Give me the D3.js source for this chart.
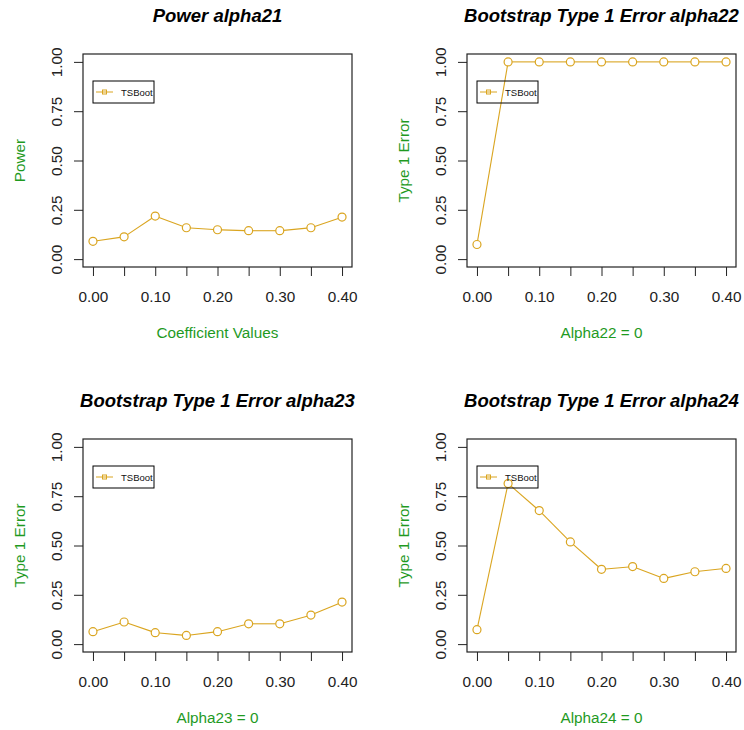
<!DOCTYPE html>
<html lang="en">
<head>
    <meta charset="UTF-8">
    <title>Bootstrap power and type 1 error</title>
    <script src="https://d3js.org/d3.v7.min.js"></script>
    <style>
        body { margin: 0; background: white; }
        svg { display: block; font-family: "Liberation Sans", Arial, sans-serif; }
        .tick line { stroke: #222; }
        .tick text { fill: #222; font-size: 15.3px; }
    </style>
</head>
<body>
<svg height="730" width="744"></svg>

<script>
    // data
    const xValues = [0, 0.05, 0.10, 0.15, 0.20, 0.25, 0.30, 0.35, 0.40];
    const xTickLabels = [0, 0.10, 0.20, 0.30, 0.40];
    const yTickValues = [0, 0.25, 0.50, 0.75, 1.00];

    const powerAlpha21 = [0.090, 0.113, 0.218, 0.159, 0.149, 0.144, 0.144, 0.159, 0.213];
    const type1Alpha22 = [0.074, 1.00, 1.00, 1.00, 1.00, 1.00, 1.00, 1.00, 1.00];
    const type1Alpha23 = [0.063, 0.112, 0.058, 0.044, 0.063, 0.103, 0.103, 0.147, 0.213];
    const type1Alpha24 = [0.073, 0.814, 0.677, 0.518, 0.379, 0.393, 0.333, 0.367, 0.384];

    const titles = ["Power alpha21", "Bootstrap Type 1 Error alpha22",
                    "Bootstrap Type 1 Error alpha23", "Bootstrap Type 1 Error alpha24"];
    const xLabels = ["Coefficient Values", "Alpha22 = 0", "Alpha23 = 0", "Alpha24 = 0"];
    const yLabels = ["Power", "Type 1 Error", "Type 1 Error", "Type 1 Error"];
    const seriesName = "TSBoot";

    const series = [powerAlpha21, type1Alpha22, type1Alpha23, type1Alpha24];

    // layout of the four plot boxes
    const boxes = [
        {left: 83, top: 54},
        {left: 467, top: 54},
        {left: 83, top: 439},
        {left: 467, top: 439}
    ];
    const W = 269, H = 213;
    const gold = "#DAA520";
    const green = "#1f9a1f";
    const r = 4;

    const svg = d3.select("svg");

    boxes.forEach(function(b, i) {
        const g = svg.append("g");

        const x = d3.scaleLinear().domain([-0.016, 0.416]).range([b.left, b.left + W]);
        const y = d3.scaleLinear().domain([-0.04, 1.04]).range([b.top + H, b.top]);

        // x axis
        const xa = g.append("g")
            .attr("transform", `translate(0,${b.top + H})`)
            .call(d3.axisBottom(x)
                .tickValues(xValues)
                .tickSize(9)
                .tickFormat(d => xTickLabels.some(v => Math.abs(v - d) < 1e-9) ? d3.format(".2f")(d) : ""));
        xa.select(".domain").remove();
        xa.selectAll(".tick text").attr("y", 35).attr("dy", 0);

        // y axis
        const ya = g.append("g")
            .attr("transform", `translate(${b.left},0)`)
            .call(d3.axisLeft(y)
                .tickValues(yTickValues)
                .tickSize(9)
                .tickFormat(d3.format(".2f")));
        ya.select(".domain").remove();
        ya.selectAll(".tick text")
            .attr("x", 0).attr("dy", 0)
            .attr("text-anchor", "middle")
            .attr("transform", "translate(-21,0) rotate(-90)");

        // box
        g.append("rect")
            .attr("x", b.left).attr("y", b.top)
            .attr("width", W).attr("height", H)
            .attr("fill", "none")
            .attr("stroke", "#222")
            .attr("stroke-width", 1.2);

        // title and axis labels
        g.append("text")
            .attr("x", b.left + W / 2).attr("y", b.top - 32)
            .attr("text-anchor", "middle")
            .attr("font-size", "18.5px")
            .attr("font-weight", "bold")
            .attr("font-style", "italic")
            .text(titles[i]);

        g.append("text")
            .attr("x", b.left + W / 2).attr("y", b.top + H + 71)
            .attr("text-anchor", "middle")
            .attr("font-size", "15.3px")
            .attr("fill", green)
            .text(xLabels[i]);

        g.append("text")
            .attr("transform", `translate(${b.left - 58},${b.top + H / 2}) rotate(-90)`)
            .attr("text-anchor", "middle")
            .attr("font-size", "15.3px")
            .attr("fill", green)
            .text(yLabels[i]);

        // line with gaps around the points (type = "b")
        const pts = series[i].map((v, k) => [x(xValues[k]), y(v)]);
        const segs = d3.pairs(pts).map(function([p, q]) {
            const dx = q[0] - p[0], dy = q[1] - p[1];
            const len = Math.hypot(dx, dy);
            const ux = dx / len, uy = dy / len;
            return [[p[0] + ux * r, p[1] + uy * r], [q[0] - ux * r, q[1] - uy * r]];
        }).filter(s => Math.hypot(s[1][0] - s[0][0], s[1][1] - s[0][1]) > 0);

        g.selectAll("line.seg")
            .data(segs)
            .enter()
            .append("line")
            .attr("class", "seg")
            .attr("x1", d => d[0][0]).attr("y1", d => d[0][1])
            .attr("x2", d => d[1][0]).attr("y2", d => d[1][1])
            .attr("stroke", gold)
            .attr("stroke-width", 1.1);

        g.selectAll("circle")
            .data(series[i])
            .enter()
            .append("circle")
            .attr("cx", (d, k) => x(xValues[k]))
            .attr("cy", d => y(d))
            .attr("r", r)
            .attr("fill", "none")
            .attr("stroke", gold)
            .attr("stroke-width", 1.2);

        // legend
        const lx = b.left + 10, ly = b.top + 27;
        const lg = g.append("g");
        lg.append("rect")
            .attr("x", lx).attr("y", ly)
            .attr("width", 61).attr("height", 22)
            .attr("fill", "none")
            .attr("stroke", "black")
            .attr("stroke-width", 1);
        lg.append("line")
            .attr("x1", lx + 3).attr("x2", lx + 20)
            .attr("y1", ly + 11).attr("y2", ly + 11)
            .attr("stroke", gold).attr("stroke-width", 1);
        lg.append("rect")
            .attr("x", lx + 9.5).attr("y", ly + 9)
            .attr("width", 4).attr("height", 4)
            .attr("fill", "none")
            .attr("stroke", gold).attr("stroke-width", 1);
        lg.append("text")
            .attr("x", lx + 28).attr("y", ly + 14.5)
            .attr("font-size", "9.5px")
            .attr("fill", "#111")
            .text(seriesName);
    });
</script>

</body>
</html>
